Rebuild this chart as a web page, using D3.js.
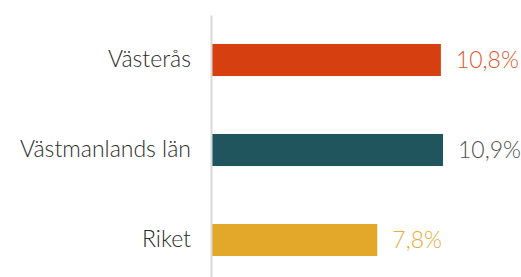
<!DOCTYPE html>
<html>
<head>
<meta charset="utf-8">
<script src="https://cdn.jsdelivr.net/npm/d3@7"></script>
<style>
  body { margin: 0; background: #fff; }
  svg text { font-family: Lato, "Open Sans", sans-serif; font-weight: 300; }
</style>
</head>
<body>
<script>
const categories = ['Västerås', 'Västmanlands län', 'Riket'];
const values = [10.8, 10.9, 7.8];
const barColors = ['#d63f10', '#21555e', '#e3a82a'];
const labelColors = ['#e3582b', '#505050', '#e8ac3a'];

const width = 521, height = 277;
const axisX = 211;

const svg = d3.select('body').append('svg')
  .attr('width', width)
  .attr('height', height);

const x = d3.scaleLinear()
  .domain([0, 10.9])
  .range([axisX + 1, 443]);

const y = d3.scaleBand()
  .domain(categories)
  .range([15, 285])
  .paddingInner(0.644)
  .paddingOuter(0.322);

const rows = categories.map((c, i) => ({name: c, value: values[i], i}));

svg.selectAll('.bar').data(rows)
  .enter()
  .append('rect')
  .attr('class', 'bar')
  .attr('x', x(0))
  .attr('y', d => y(d.name))
  .attr('width', d => x(d.value) - x(0))
  .attr('height', y.bandwidth())
  .attr('fill', d => barColors[d.i]);

svg.selectAll('.val').data(rows)
  .enter()
  .append('text')
  .attr('class', 'val')
  .attr('x', d => x(d.value) + 15)
  .attr('y', d => y(d.name) + y.bandwidth() / 2)
  .attr('dy', '0.35em')
  .attr('font-size', 23)
  .attr('fill', d => labelColors[d.i])
  .text(d => d3.format('.1f')(d.value).replace('.', ',') + '%');

const $axis = svg.append('g')
  .attr('class', 'axis axis--y')
  .attr('transform', `translate(${axisX}, 0)`)
  .call(d3.axisLeft(y).tickSize(0).tickPadding(20).tickSizeOuter(0));

$axis.select('.domain')
  .attr('stroke', '#d9d9d9')
  .attr('stroke-width', 2);

$axis.selectAll('text')
  .attr('font-size', 23)
  .attr('font-family', 'Lato, sans-serif')
  .attr('fill', '#2b2b2b');
</script>
</body>
</html>
